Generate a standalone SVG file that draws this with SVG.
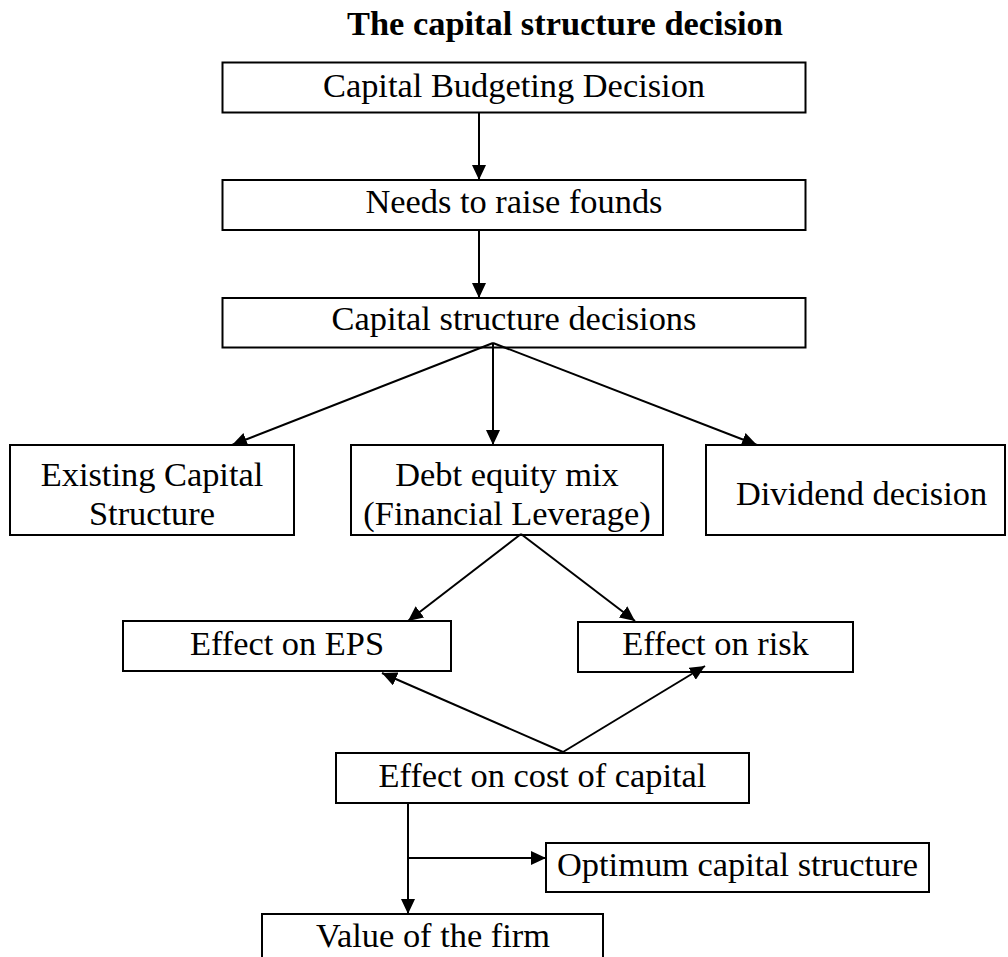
<svg xmlns="http://www.w3.org/2000/svg" width="1008" height="957" viewBox="0 0 1008 957">
<style>
.box{fill:#fff;stroke:#000;stroke-width:2}
.t{font-family:"Liberation Serif","Times New Roman",serif;font-size:34.4px;fill:#000;text-anchor:middle}
.title{font-family:"Liberation Serif","Times New Roman",serif;font-size:34.4px;font-weight:bold;fill:#000}
.c{stroke:#000;stroke-width:2;fill:none}
</style>
<defs>
<marker id="ah" markerUnits="userSpaceOnUse" markerWidth="15" markerHeight="14" refX="15" refY="7" orient="auto">
<path d="M0,0 L15,7 L0,14 z" fill="#000"/>
</marker>
</defs>
<rect width="1008" height="957" fill="#fff"/>
<text class="title" x="347" y="35">The capital structure decision</text>

<g id="n1"><rect class="box" x="222.5" y="62.5" width="583" height="50"/><text class="t" x="514" y="97">Capital Budgeting Decision</text></g>
<g id="n2"><rect class="box" x="222.5" y="180" width="583" height="50"/><text class="t" x="514" y="213">Needs to raise founds</text></g>
<g id="n3"><rect class="box" x="222.5" y="298" width="583" height="49.5"/><text class="t" x="514" y="330">Capital structure decisions</text></g>
<g id="n4"><rect class="box" x="10" y="445" width="284" height="90"/><text class="t" x="152" y="486">Existing Capital</text><text class="t" x="152" y="525">Structure</text></g>
<g id="n5"><rect class="box" x="351" y="445" width="312" height="90"/><text class="t" x="507" y="486">Debt equity mix</text><text class="t" x="507" y="525">(Financial Leverage)</text></g>
<g id="n6"><rect class="box" x="706" y="445" width="299" height="90"/><text class="t" x="861.5" y="505">Dividend decision</text></g>
<g id="n7"><rect class="box" x="123" y="621" width="328" height="50"/><text class="t" x="287" y="655">Effect on EPS</text></g>
<g id="n8"><rect class="box" x="578" y="622" width="275" height="50"/><text class="t" x="715.5" y="655">Effect on risk</text></g>
<g id="n9"><rect class="box" x="336" y="753" width="413" height="50"/><text class="t" x="542.5" y="787">Effect on cost of capital</text></g>
<g id="n10"><rect class="box" x="546" y="843" width="383" height="49"/><text class="t" x="737.5" y="876">Optimum capital structure</text></g>
<g id="n11"><rect class="box" x="262" y="914" width="341" height="60"/><text class="t" x="433" y="947">Value of the firm</text></g>

<g id="connectors">
<line class="c" x1="479" y1="113" x2="479" y2="180" marker-end="url(#ah)"/>
<line class="c" x1="479" y1="230" x2="479" y2="298" marker-end="url(#ah)"/>
<line class="c" x1="493" y1="343" x2="232" y2="445" marker-end="url(#ah)"/>
<line class="c" x1="493" y1="343" x2="493" y2="445" marker-end="url(#ah)"/>
<line class="c" x1="493" y1="343" x2="757" y2="445" marker-end="url(#ah)"/>
<line class="c" x1="521" y1="534" x2="408" y2="621" marker-end="url(#ah)"/>
<line class="c" x1="521" y1="534" x2="635" y2="621" marker-end="url(#ah)"/>
<line class="c" x1="563" y1="752" x2="382" y2="673" marker-end="url(#ah)"/>
<line class="c" x1="563" y1="752" x2="705" y2="666" marker-end="url(#ah)"/>
<line class="c" x1="408" y1="803" x2="408" y2="914" marker-end="url(#ah)"/>
<line class="c" x1="408" y1="858" x2="546" y2="858" marker-end="url(#ah)"/>
</g>
</svg>
